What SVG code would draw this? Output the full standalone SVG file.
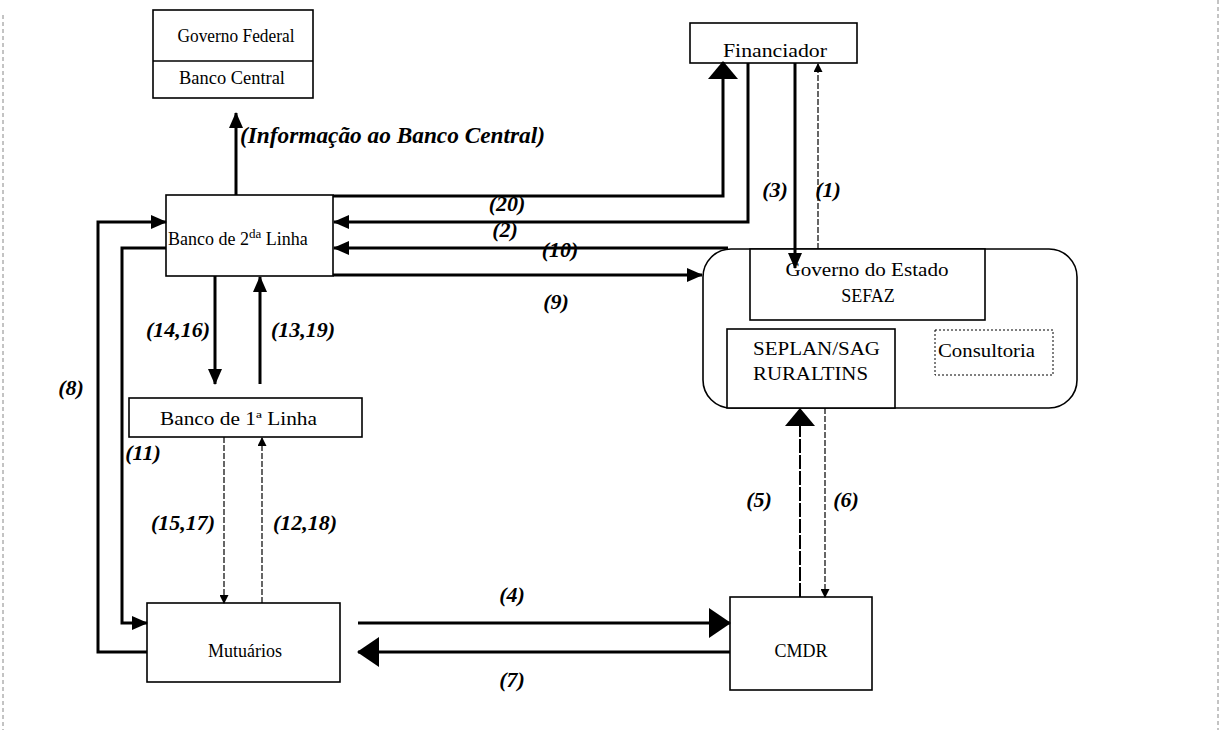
<svg xmlns="http://www.w3.org/2000/svg" width="1228" height="730" viewBox="0 0 1228 730">
<style>
.box{fill:#fff;stroke:#000;stroke-width:1.6}
.txt{font-family:"Liberation Serif",serif;font-size:18px;fill:#000}
.lbl{font-family:"Liberation Serif",serif;font-size:22px;font-weight:bold;font-style:italic;fill:#000;text-anchor:middle}
.info{font-family:"Liberation Serif",serif;font-size:23px;font-weight:bold;font-style:italic;fill:#000;text-anchor:start}
.thick{fill:none;stroke:#000;stroke-width:3}
.med{fill:none;stroke:#000;stroke-width:2}
.dash{fill:none;stroke:#000;stroke-width:1.2;stroke-dasharray:6 2}
.edge{fill:none;stroke:#888;stroke-width:1;stroke-dasharray:4 3}
</style>
<defs>
<marker id="am" markerUnits="userSpaceOnUse" markerWidth="16" markerHeight="14" viewBox="0 0 16 14" refX="15" refY="7" orient="auto"><path d="M0,0 L16,7 L0,14 z"/></marker>
<marker id="ab" markerUnits="userSpaceOnUse" markerWidth="18" markerHeight="30" viewBox="0 0 18 30" refX="17" refY="15" orient="auto"><path d="M0,0 L18,15 L0,30 z"/></marker>
<marker id="al" markerUnits="userSpaceOnUse" markerWidth="22" markerHeight="30" viewBox="0 0 22 30" refX="21" refY="15" orient="auto"><path d="M0,0 L22,15 L0,30 z"/></marker>
<marker id="as" markerUnits="userSpaceOnUse" markerWidth="9" markerHeight="9" viewBox="0 0 9 9" refX="8" refY="4.5" orient="auto"><path d="M0,0 L9,4.5 L0,9 z"/></marker>
</defs>
<rect width="1228" height="730" fill="#fff"/>
<line class="edge" x1="3" y1="15" x2="3" y2="730"/>
<line class="edge" x1="1218" y1="0" x2="1218" y2="730"/>

<g id="governo-federal">
<rect class="box" x="153" y="10" width="160" height="88"/>
<line x1="153" y1="61" x2="313" y2="61" stroke="#000" stroke-width="1.6"/>
<text class="txt" x="236" y="42" text-anchor="middle" textLength="117" lengthAdjust="spacingAndGlyphs">Governo Federal</text>
<text class="txt" x="232" y="84" text-anchor="middle" textLength="106" lengthAdjust="spacingAndGlyphs">Banco Central</text>
</g>

<g id="financiador">
<rect class="box" x="690" y="23" width="167" height="40"/>
<text class="txt" x="775" y="57" text-anchor="middle" font-size="20" textLength="104" lengthAdjust="spacingAndGlyphs">Financiador</text>
</g>

<g id="banco-2">
<rect class="box" x="166" y="195" width="167" height="81"/>
<text class="txt" x="168" y="245">Banco de 2<tspan dy="-7" font-size="13">da</tspan><tspan dy="7"> Linha</tspan></text>
</g>

<g id="banco-1">
<rect class="box" x="129" y="398" width="233" height="39"/>
<text class="txt" x="160" y="425" font-size="19" textLength="157" lengthAdjust="spacingAndGlyphs">Banco de 1ª Linha</text>
</g>

<g id="mutuarios">
<rect class="box" x="147" y="603" width="193" height="79"/>
<text class="txt" x="245" y="657" text-anchor="middle">Mutuários</text>
</g>

<g id="cmdr">
<rect class="box" x="730" y="597" width="142" height="93"/>
<text class="txt" x="801" y="657" text-anchor="middle">CMDR</text>
</g>

<g id="governo-estado">
<rect class="box" x="703" y="249" width="374" height="159" rx="28" ry="28" stroke-width="2"/>
<rect class="box" x="750" y="249" width="235" height="71"/>
<text class="txt" x="867" y="276" text-anchor="middle" font-size="21" textLength="163" lengthAdjust="spacingAndGlyphs">Governo do Estado</text>
<text class="txt" x="868" y="302" text-anchor="middle" font-size="21">SEFAZ</text>
<rect class="box" x="727" y="329" width="168" height="79"/>
<text class="txt" x="753" y="355" font-size="21" textLength="127" lengthAdjust="spacingAndGlyphs">SEPLAN/SAG</text>
<text class="txt" x="753" y="380" font-size="21" textLength="115" lengthAdjust="spacingAndGlyphs">RURALTINS</text>
<rect x="935" y="330" width="118" height="45" fill="#fff" stroke="#000" stroke-width="1" stroke-dasharray="2 2"/>
<text class="txt" x="938" y="357" font-size="19" textLength="97" lengthAdjust="spacingAndGlyphs">Consultoria</text>
</g>

<g id="connectors">
<path class="thick" d="M236,195 V113" marker-end="url(#am)"/>
<path class="thick" d="M333,196 H723 V62" marker-end="url(#ab)"/>
<path class="thick" d="M748,63 V222 H334" marker-end="url(#am)"/>
<path class="thick" d="M728,248 H334" marker-end="url(#am)"/>
<path class="thick" d="M333,275 H702" marker-end="url(#am)"/>
<path class="thick" d="M795,63 V268" marker-end="url(#am)"/>
<path class="dash" d="M818,249 V64" marker-end="url(#as)"/>
<path class="thick" d="M147,652 H98 V222 H166" marker-end="url(#am)"/>
<path class="thick" d="M166,248 H122 V623 H147" marker-end="url(#am)"/>
<path class="thick" d="M215,276 V384" marker-end="url(#am)"/>
<path class="thick" d="M260,384 V277" marker-end="url(#am)"/>
<path class="dash" d="M224,437 V603" marker-end="url(#as)"/>
<path class="dash" d="M262,603 V438" marker-end="url(#as)"/>
<path class="thick" d="M358,623 H730" marker-end="url(#al)"/>
<path class="thick" d="M730,652 H358" marker-end="url(#al)"/>
<path class="med" d="M800,597 V409" stroke-dasharray="14 2" marker-end="url(#ab)"/>
<path class="dash" d="M825,408 V597" marker-end="url(#as)"/>
</g>

<g id="labels">
<text class="info" x="240" y="143" textLength="305" lengthAdjust="spacingAndGlyphs">(Informação ao Banco Central)</text>
<text class="lbl" x="507" y="211">(20)</text>
<text class="lbl" x="505" y="237">(2)</text>
<text class="lbl" x="560" y="257">(10)</text>
<text class="lbl" x="556" y="309">(9)</text>
<text class="lbl" x="775" y="197">(3)</text>
<text class="lbl" x="828" y="197">(1)</text>
<text class="lbl" x="178" y="337">(14,16)</text>
<text class="lbl" x="303" y="337">(13,19)</text>
<text class="lbl" x="71" y="395">(8)</text>
<text class="lbl" x="143" y="460">(11)</text>
<text class="lbl" x="183" y="530">(15,17)</text>
<text class="lbl" x="305" y="530">(12,18)</text>
<text class="lbl" x="512" y="602">(4)</text>
<text class="lbl" x="512" y="687">(7)</text>
<text class="lbl" x="759" y="507">(5)</text>
<text class="lbl" x="846" y="507">(6)</text>
</g>
</svg>
